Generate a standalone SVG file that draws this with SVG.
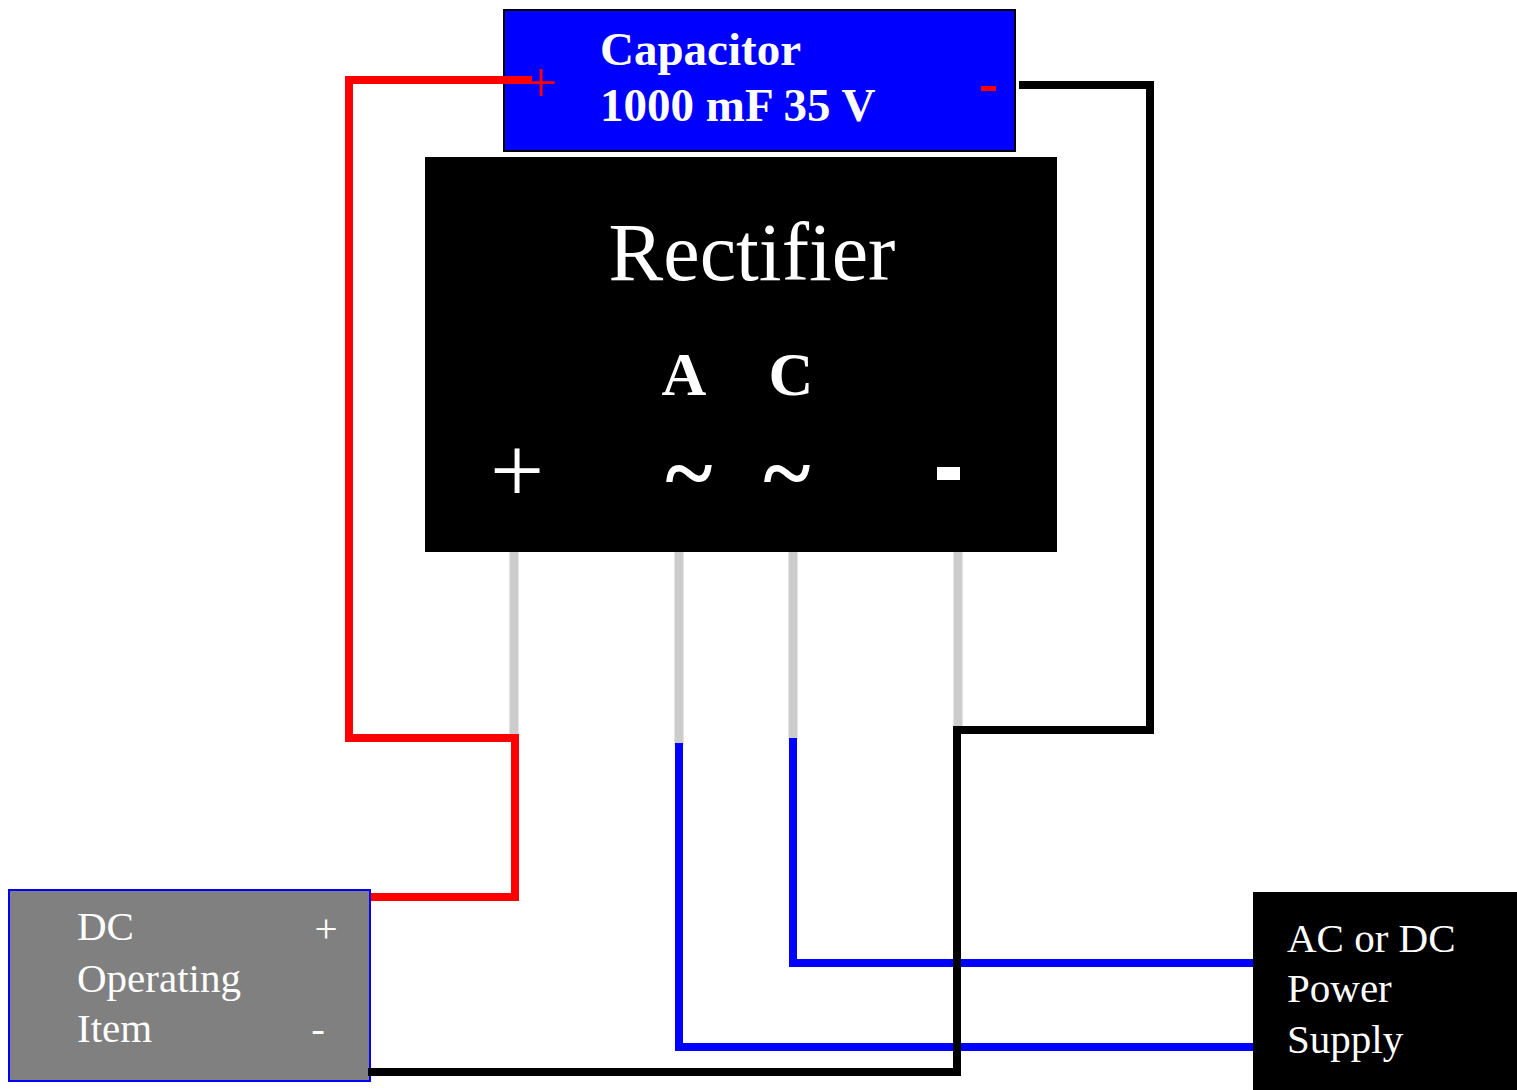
<svg xmlns="http://www.w3.org/2000/svg" width="1517" height="1090" viewBox="0 0 1517 1090">
<style>
.t{font-family:"Liberation Serif","Times New Roman",serif;fill:#fff}
.b{font-weight:bold}
.w{fill:none;stroke-linecap:square;stroke-linejoin:miter}
.pin{stroke:#cccccc;stroke-width:9;fill:none}
</style>
<rect width="1517" height="1090" fill="#fff"/>
<g id="pins">
<line class="pin" x1="514" y1="552" x2="514" y2="735"/>
<line class="pin" x1="679" y1="552" x2="679" y2="745"/>
<line class="pin" x1="793" y1="552" x2="793" y2="740"/>
<line class="pin" x1="958" y1="552" x2="958" y2="730"/>
</g>
<g id="capacitor">
<rect x="504" y="10" width="511" height="141" fill="#0000ff" stroke="#000" stroke-width="2"/>
<text class="t b" x="600" y="65" font-size="47">Capacitor</text>
<text class="t b" x="600" y="121" font-size="47">1000 mF 35 V</text>
<rect x="981" y="86" width="15" height="5" fill="#ff0000"/>
</g>
<g id="rectifier">
<rect x="425" y="157" width="632" height="395" fill="#000"/>
<text class="t" x="752" y="280" font-size="82" text-anchor="middle">Rectifier</text>
<text class="t b" x="684" y="395" font-size="62" text-anchor="middle">A</text>
<text class="t b" x="791" y="395" font-size="62" text-anchor="middle">C</text>
<text class="t" x="517" y="502" font-size="96" text-anchor="middle">+</text>
<text class="t b" x="689" y="503" font-size="90" text-anchor="middle">~</text>
<text class="t b" x="787" y="503" font-size="90" text-anchor="middle">~</text>
<rect x="937" y="467" width="23" height="13" fill="#fff"/>
</g>
<g id="dc-item">
<rect x="9" y="890" width="361" height="191" fill="#808080" stroke="#0000ff" stroke-width="2"/>
<text class="t" x="77" y="940" font-size="41">DC</text>
<text class="t" x="77" y="992" font-size="41">Operating</text>
<text class="t" x="77" y="1042" font-size="41">Item</text>
<text class="t" x="326" y="942" font-size="41" text-anchor="middle">+</text>
<text class="t" x="318" y="1042" font-size="41" text-anchor="middle">-</text>
</g>
<g id="power-supply">
<rect x="1253" y="892" width="264" height="198" fill="#000"/>
<text class="t" x="1287" y="952" font-size="41">AC or DC</text>
<text class="t" x="1287" y="1002" font-size="41">Power</text>
<text class="t" x="1287" y="1053" font-size="41">Supply</text>
</g>
<g id="connectors">
<path class="w" d="M528 80 H349 V738 H515 V897 H375" stroke="#ff0000" stroke-width="8"/>
<path class="w" d="M679 747 V1047 H1249" stroke="#0000ff" stroke-width="8"/>
<path class="w" d="M793 742 V963 H1249" stroke="#0000ff" stroke-width="8"/>
<path class="w" d="M1023 85 H1150 V730 H957 V1072 H372" stroke="#000" stroke-width="8"/>
<text class="t" x="541" y="102" font-size="58" text-anchor="middle" style="fill:#ff0000">+</text>
</g>
</svg>
